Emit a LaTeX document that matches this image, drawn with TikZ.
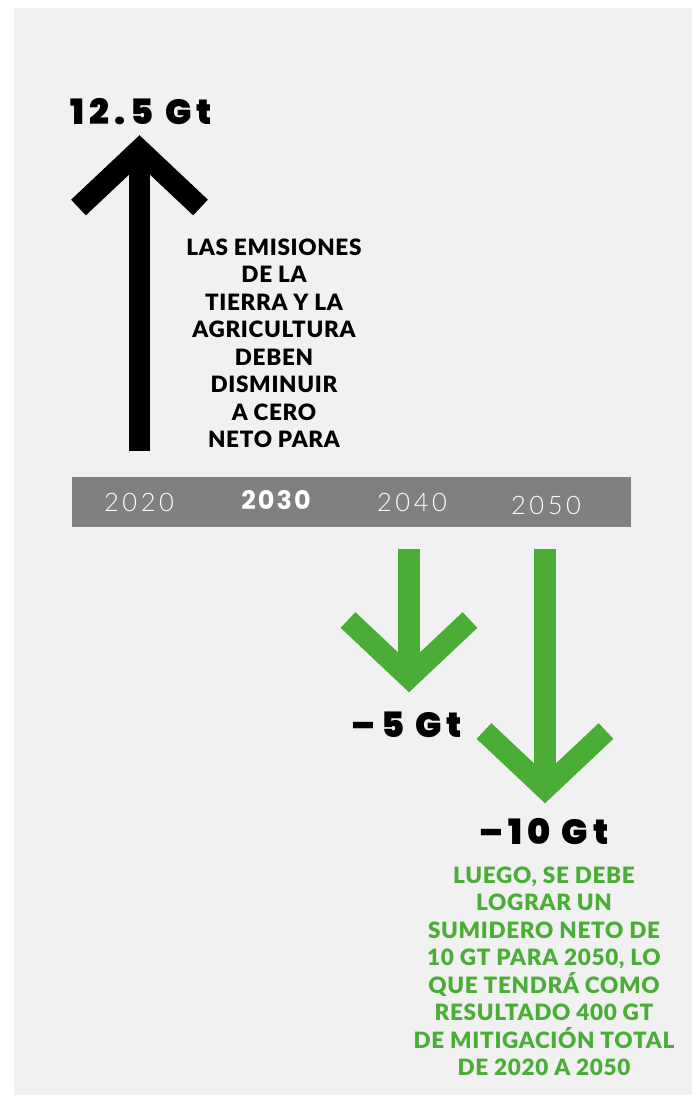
\documentclass[tikz,border=0pt]{standalone}
\usepackage{fontspec}
\setmainfont{Lato}
\newfontfamily\gtfont{Poppins}[UprightFont=* Black, LetterSpace=15]
\newfontfamily\yearfont{Lato}[UprightFont=* Light, LetterSpace=14]
\newfontfamily\yearboldfont{Poppins}[UprightFont=* Bold, LetterSpace=8]
\newfontfamily\blurbfont{Lato}[UprightFont=* Black, LetterSpace=3]

\definecolor{panelgray}{HTML}{F1F1F1}
\definecolor{bargray}{HTML}{808080}
\definecolor{sinkgreen}{HTML}{4AAD36}

\tikzset{
  shaft/.style={line width=21.5pt, line cap=butt},
  barb/.style={line width=21.5pt, line cap=butt, line join=miter},
  gtlabel/.style={inner sep=0pt, font=\gtfont\fontsize{35pt}{35pt}\selectfont},
  yearlabel/.style={inner sep=0pt, text=white, font=\yearfont\fontsize{25.5pt}{25.5pt}\selectfont},
  blurb/.style={inner sep=0pt, align=center, font=\blurbfont\fontsize{22.5pt}{27.5pt}\selectfont}
}

\begin{document}
\begin{tikzpicture}[x=1pt, y=-1pt]
\useasboundingbox (0,0) rectangle (696,1095);
\fill[white] (0,0) rectangle (696,1095);
\fill[panelgray] (14,8) rectangle (692,1095);

% timeline bar
\node[fill=bargray, minimum width=559pt, minimum height=50pt, inner sep=0pt] (timeline) at (351.5,502) {};
\node[yearlabel] (y2020) at (139,502) {2020};
\node[yearlabel, font=\yearboldfont\fontsize{25.5pt}{25.5pt}\selectfont] (y2030) at (276,500) {2030};
\node[yearlabel] (y2040) at (412,502) {2040};
\node[yearlabel] (y2050) at (546,505) {2050};

% land emissions going up
\coordinate (up-base) at (139.5,451);
\coordinate (up-tip) at (139.5,150);
\draw[shaft] (up-base) -- (up-tip);
\draw[barb] ([shift={(-61,57.5)}]up-tip) -- (up-tip) -- ([shift={(61,57.5)}]up-tip);
\node[gtlabel] (up-label) at (141,112) {12.5 Gt};

\node[blurb] (land-text) at (274,343.5) {LAS EMISIONES\\DE LA\\TIERRA Y LA\\AGRICULTURA\\DEBEN\\DISMINUIR\\A CERO\\NETO PARA};

% net sink going down
\coordinate (down5-base) at (409,549);
\coordinate (down5-tip) at (409,677.5);
\draw[shaft, sinkgreen] (down5-base) -- (down5-tip);
\draw[barb, sinkgreen] ([shift={(-61,-57.5)}]down5-tip) -- (down5-tip) -- ([shift={(61,-57.5)}]down5-tip);
\node[gtlabel] (down5-label) at (407,725) {–5 Gt};

\coordinate (down10-base) at (545,549);
\coordinate (down10-tip) at (545,788.5);
\draw[shaft, sinkgreen] (down10-base) -- (down10-tip);
\draw[barb, sinkgreen] ([shift={(-61,-57.5)}]down10-tip) -- (down10-tip) -- ([shift={(61,-57.5)}]down10-tip);
\node[gtlabel] (down10-label) at (544,832) {–10 Gt};

\node[blurb, text=sinkgreen] (sink-text) at (544,971.5) {LUEGO, SE DEBE\\LOGRAR UN\\SUMIDERO NETO DE\\10 GT PARA 2050, LO\\QUE TENDRÁ COMO\\RESULTADO 400 GT\\DE MITIGACIÓN TOTAL\\DE 2020 A 2050};
\end{tikzpicture}
\end{document}
